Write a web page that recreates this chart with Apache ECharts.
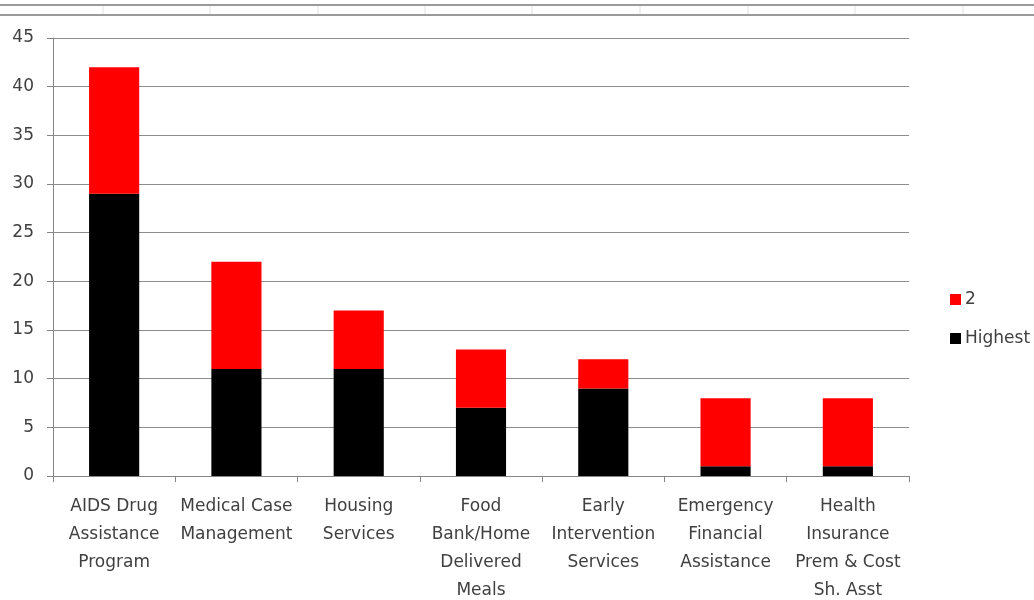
<!DOCTYPE html>
<html>
<head>
<meta charset="utf-8">
<style>
  html, body { margin: 0; padding: 0; background: #fff; }
  #chart { width: 1034px; height: 600px; }
</style>
<script src="https://cdn.jsdelivr.net/npm/echarts@6/dist/echarts.min.js"></script>
</head>
<body>
<div id="chart"></div>
<script>
// Service categories (multi-line labels)
const categories = [
  'AIDS Drug\nAssistance\nProgram',
  'Medical Case\nManagement',
  'Housing\nServices',
  'Food\nBank/Home\nDelivered\nMeals',
  'Early\nIntervention\nServices',
  'Emergency\nFinancial\nAssistance',
  'Health\nInsurance\nPrem & Cost\nSh. Asst'
];
// Number of "Highest" priority rankings per service
const highestValues = [29, 11, 11, 7, 9, 1, 1];
// Number of second-priority rankings per service
const secondValues = [13, 11, 6, 6, 3, 7, 7];
// Value axis ticks
const yMin = 0, yMax = 45, yStep = 5;

const chart = echarts.init(document.getElementById('chart'), null, { renderer: 'canvas' });

// Spreadsheet cell borders across the top of the sheet
const sheetCols = [103, 210, 318, 425, 532, 640, 748, 855, 963];
const sheetGraphics = [
  { type: 'line', shape: { x1: 0, y1: 5, x2: 1034, y2: 5 }, style: { stroke: '#9a9a9a', lineWidth: 2 } },
  { type: 'line', shape: { x1: 0, y1: 15, x2: 1034, y2: 15 }, style: { stroke: '#9a9a9a', lineWidth: 2 } }
].concat(sheetCols.map(x => ({
  type: 'line', shape: { x1: x, y1: 6, x2: x, y2: 14 }, style: { stroke: '#e2e2e2', lineWidth: 1 }
})));

const fontFamily = 'DejaVu Sans, Verdana, sans-serif';
const textColor = '#404040';

chart.setOption({
  animation: false,
  backgroundColor: '#fff',
  graphic: sheetGraphics,
  legend: {
    orient: 'vertical',
    left: 945,
    top: 286,
    itemWidth: 11,
    itemHeight: 11,
    itemGap: 22,
    icon: 'rect',
    data: ['2', 'Highest'],
    textStyle: { fontFamily, fontSize: 17, color: textColor, padding: [0, 0, 0, -1] }
  },
  grid: {
    left: 53, right: 125, top: 38, bottom: 124,
    containLabel: false,
    outerBoundsMode: 'none'
  },
  xAxis: {
    type: 'category',
    data: categories,
    axisLine: { lineStyle: { color: '#868686', width: 1 } },
    axisTick: { show: true, alignWithLabel: false, length: 6, lineStyle: { color: '#868686' } },
    axisLabel: {
      interval: 0,
      margin: 17,
      fontFamily,
      fontSize: 17,
      lineHeight: 28,
      color: textColor
    }
  },
  yAxis: {
    type: 'value',
    min: yMin,
    max: yMax,
    interval: yStep,
    axisLine: { show: true, lineStyle: { color: '#868686' } },
    axisTick: { show: true, length: 6, lineStyle: { color: '#868686' } },
    axisLabel: { margin: 19, fontFamily, fontSize: 17, color: textColor },
    splitLine: { lineStyle: { color: '#8c8c8c', width: 1 } }
  },
  series: [
    {
      name: 'Highest',
      type: 'bar',
      stack: 'rank',
      barWidth: '41%',
      itemStyle: { color: '#000000' },
      data: highestValues
    },
    {
      name: '2',
      type: 'bar',
      stack: 'rank',
      barWidth: '41%',
      itemStyle: { color: '#ff0000' },
      data: secondValues
    }
  ]
});
</script>
</body>
</html>
